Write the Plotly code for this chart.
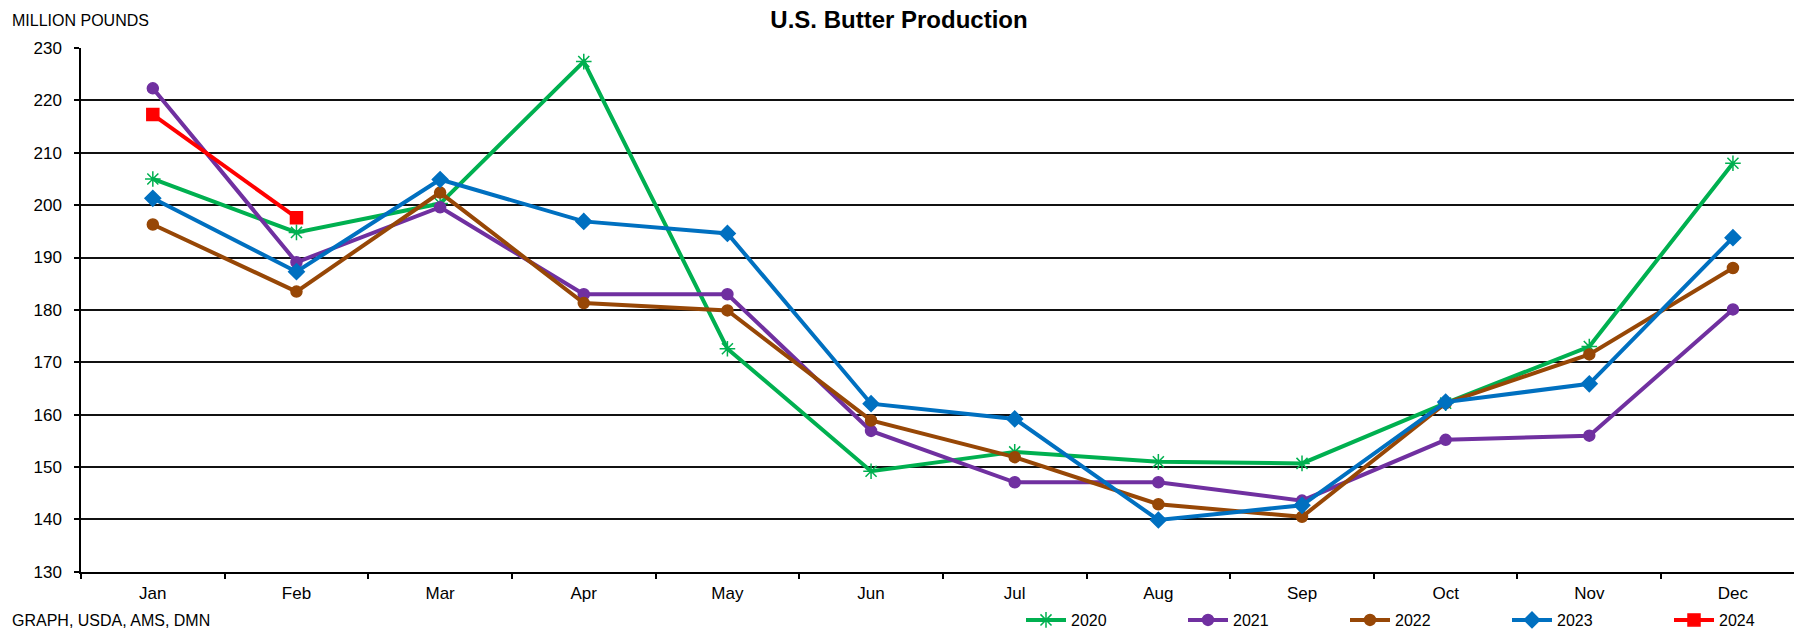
import plotly.graph_objects as go

months = ["Jan", "Feb", "Mar", "Apr", "May", "Jun", "Jul", "Aug", "Sep", "Oct", "Nov", "Dec"]

y2020 = [205.0, 194.8, 200.3, 227.4, 172.6, 149.2, 152.9, 151.0, 150.7, 162.2, 173.0, 208.0]
y2021 = [222.3, 189.1, 199.6, 183.0, 183.0, 156.9, 147.1, 147.1, 143.6, 155.2, 156.0, 180.1]
y2022 = [196.3, 183.5, 202.4, 181.3, 179.9, 158.9, 151.9, 142.9, 140.5, 162.2, 171.5, 188.0]
y2023 = [201.3, 187.3, 204.9, 196.9, 194.6, 162.1, 159.2, 139.9, 142.7, 162.4, 165.9, 193.8]
y2024 = [217.3, 197.6]

series = [
    ("2020", y2020, "#00B050", "asterisk-open", 13),
    ("2021", y2021, "#7030A0", "circle", 11),
    ("2022", y2022, "#974706", "circle", 11),
    ("2023", y2023, "#0070C0", "diamond", 12),
    ("2024", y2024, "#FF0000", "square", 12),
]

FONT = "Liberation Sans, Arial, sans-serif"
W, H = 1794, 629
ML, MR, MT, MB = 81, 0, 48, 56
PW, PH = W - ML - MR, H - MT - MB

fig = go.Figure()
for name, vals, color, sym, size in series:
    fig.add_trace(go.Scatter(
        x=months[:len(vals)], y=vals, name=name, mode="lines+markers",
        line=dict(color=color, width=4),
        marker=dict(symbol=sym, size=size, color=color,
                    line=dict(color=color, width=1.5)),
    ))

fig.update_layout(
    width=W, height=H,
    margin=dict(l=ML, r=MR, t=MT, b=MB),
    paper_bgcolor="white", plot_bgcolor="white",
    font=dict(family=FONT, color="black", size=16),
    title=dict(text="<b>U.S. Butter Production</b>", x=899 / W, xanchor="center",
               xref="container", yref="container", y=1 - 19.5 / H,
               yanchor="middle", font=dict(size=24, family=FONT)),
    showlegend=True,
    legend=dict(orientation="h", xref="container", yref="container",
                x=1021 / W, xanchor="left", y=9 / H, yanchor="middle",
                entrywidth=107, entrywidthmode="pixels",
                font=dict(size=16, family=FONT), bgcolor="rgba(0,0,0,0)",
                itemwidth=40, tracegroupgap=0),
    annotations=[
        dict(text="MILLION POUNDS", xref="paper", yref="paper",
             x=(10 - ML) / PW, y=1 + (MT - 20.3) / PH,
             xanchor="left", yanchor="middle",
             showarrow=False, font=dict(size=16, family=FONT)),
        dict(text="GRAPH, USDA, AMS, DMN", xref="paper", yref="paper",
             x=(10 - ML) / PW, y=(7 - MB) / PH, xanchor="left", yanchor="middle",
             showarrow=False, font=dict(size=16, family=FONT)),
    ],
)

fig.update_xaxes(
    type="category", categoryorder="array", categoryarray=months,
    range=[-0.5, 11.425], showgrid=False, zeroline=False,
    showline=True, linecolor="black", linewidth=1.5,
    ticks="outside", tickson="boundaries", ticklen=5, tickcolor="black",
    tickwidth=1.5, tickfont=dict(size=17, family=FONT), ticklabelstandoff=5,
)
fig.update_yaxes(
    range=[130, 230], dtick=10, tick0=130,
    showgrid=True, gridcolor="#111111", gridwidth=1.5, zeroline=False,
    showline=True, linecolor="black", linewidth=1.5,
    ticks="outside", ticklen=5, tickcolor="black", tickwidth=1.5,
    tickfont=dict(size=17, family=FONT), ticklabelstandoff=9,
)

fig.write_html("out.html", config={"displayModeBar": False},
               post_script="document.body.style.margin='0';document.body.style.overflow='hidden';")
